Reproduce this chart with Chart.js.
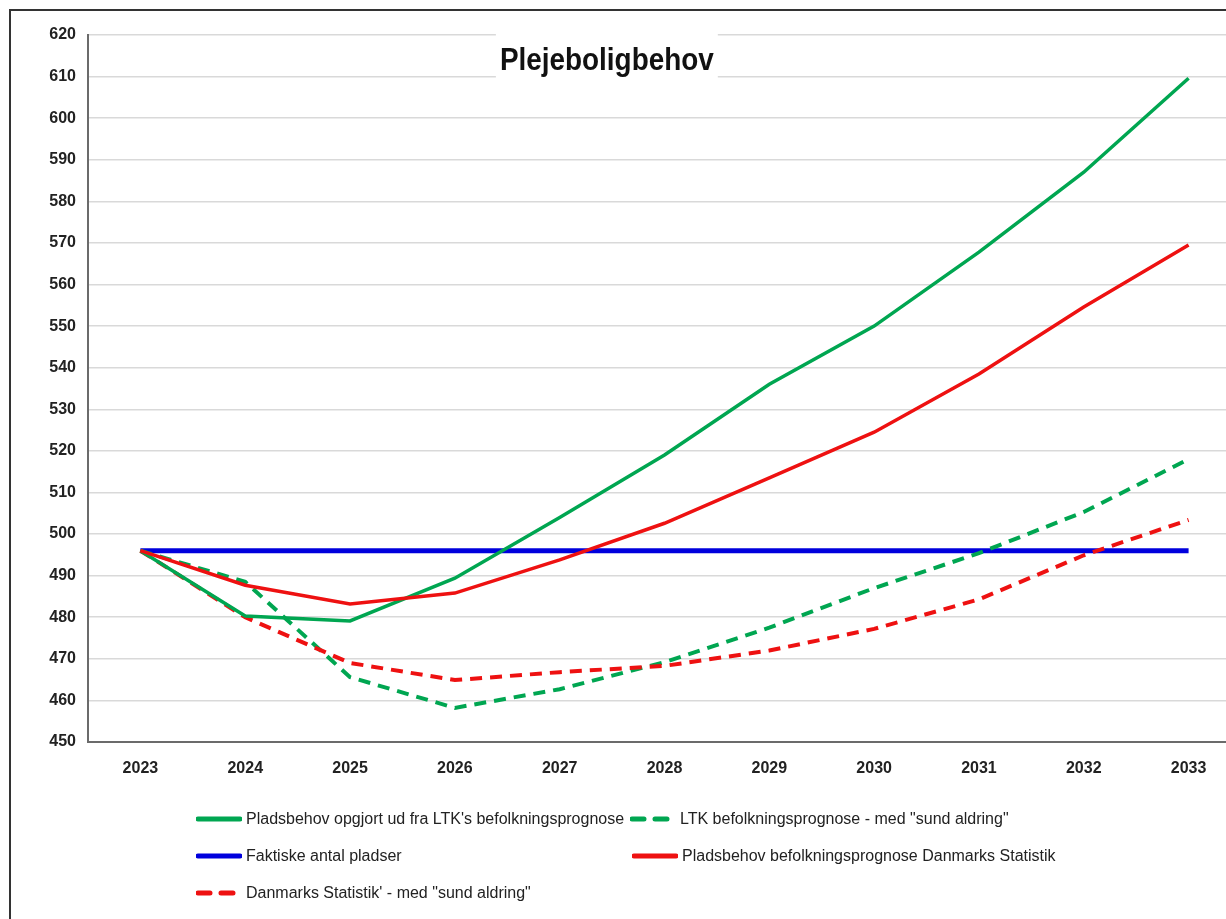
<!DOCTYPE html>
<html>
<head>
<meta charset="utf-8">
<script src="https://cdn.jsdelivr.net/npm/chart.js@4.4.1/dist/chart.umd.min.js"></script>
<style>
  body { margin: 0; overflow: hidden; background: #fff; }
  #frame { position: absolute; left: 9px; top: 9px; width: 1400px; height: 1000px;
           border-left: 2px solid #333; border-top: 2px solid #333; }
  #wrap { position: absolute; left: 0; top: 0; width: 1262px; height: 919px; }
  #legend { position: absolute; left: 196px; top: 810px; width: 900px;
            font-family: "Liberation Sans Narrow", "Arial Narrow", "Liberation Sans", Arial, sans-serif;
            font-size: 16px; color: #222; }
  .item { position: absolute; display: flex; align-items: center; white-space: nowrap; }
  .item svg { margin-right: 4px; }
</style>
</head>
<body>
<div id="frame"></div>
<div id="wrap"><canvas id="myChart"></canvas></div>
<div id="legend"></div>
<script>
const years = ['2023', '2024', '2025', '2026', '2027', '2028', '2029', '2030', '2031', '2032', '2033'];

// Pladsbehov opgjort ud fra LTK's befolkningsprognose
const ltkBehov = [496, 480.3, 479.1, 489.4, 504, 519, 536, 550, 567.8, 587, 609.6];
// LTK befolkningsprognose - med "sund aldring"
const ltkSund = [496, 488.5, 465.6, 458.2, 462.7, 469.2, 477.5, 487, 495.4, 505.3, 518];
// Faktiske antal pladser
const faktiske = [496, 496, 496, 496, 496, 496, 496, 496, 496, 496, 496];
// Pladsbehov befolkningsprognose Danmarks Statistik
const dstBehov = [496, 487.7, 483.2, 485.8, 493.8, 502.6, 513.5, 524.5, 538.5, 554.6, 569.5];
// Danmarks Statistik' - med "sund aldring"
const dstSund = [496, 480, 469, 464.9, 466.8, 468.3, 472, 477.2, 484.3, 494.9, 503.4];

const yTicks = [450, 460, 470, 480, 490, 500, 510, 520, 530, 540, 550, 560, 570, 580, 590, 600, 610, 620];

const narrow = '"Liberation Sans Narrow", "Arial Narrow", "Liberation Sans", Arial, sans-serif';
const green = '#00a651';
const red = '#ee1111';
const blue = '#0000dd';

// draws the title inside the plot with a white box behind it
const titleBox = {
    id: 'titleBox',
    afterDraw(chart) {
        const { ctx, chartArea } = chart;
        const cx = chartArea.left + (chartArea.right - chartArea.left) * 0.45;
        const sx = 0.9; // squeeze, the original uses a narrow face
        ctx.save();
        ctx.font = 'bold 31px ' + narrow;
        const w = ctx.measureText('Plejeboligbehov').width * sx;
        ctx.fillStyle = '#fff';
        ctx.fillRect(cx - w / 2 - 4, chartArea.top - 1, w + 8, 45);
        ctx.translate(cx, chartArea.top + 26);
        ctx.scale(sx, 1);
        ctx.fillStyle = '#111';
        ctx.textAlign = 'center';
        ctx.textBaseline = 'middle';
        ctx.fillText('Plejeboligbehov', 0, 0);
        ctx.restore();
    }
};

const ctx = document.getElementById('myChart').getContext('2d');
const myChart = new Chart(ctx, {
    type: 'line',
    data: {
        labels: years,
        datasets: [
            { label: "Pladsbehov opgjort ud fra LTK's befolkningsprognose", data: ltkBehov,
              borderColor: green, borderWidth: 3.5, pointRadius: 0, order: 2 },
            { label: 'LTK befolkningsprognose - med "sund aldring"', data: ltkSund,
              borderColor: green, borderWidth: 4, borderDash: [12, 8], pointRadius: 0, order: 4 },
            { label: 'Faktiske antal pladser', data: faktiske,
              borderColor: blue, borderWidth: 5, pointRadius: 0, order: 5 },
            { label: 'Pladsbehov befolkningsprognose Danmarks Statistik', data: dstBehov,
              borderColor: red, borderWidth: 3.5, pointRadius: 0, order: 1 },
            { label: 'Danmarks Statistik\' - med "sund aldring"', data: dstSund,
              borderColor: red, borderWidth: 4, borderDash: [12, 8], pointRadius: 0, order: 3 }
        ]
    },
    options: {
        responsive: true,
        maintainAspectRatio: false,
        animation: false,
        layout: { padding: { top: 35, right: 21, bottom: 137, left: 0 } },
        plugins: {
            legend: { display: false },
            title: { display: false },
            tooltip: { enabled: false }
        },
        scales: {
            x: {
                offset: true,
                grid: { display: false, tickLength: 0 },
                border: { display: true, color: '#6b6b6b', width: 2 },
                ticks: { color: '#222', padding: 17, font: { family: narrow, size: 16, weight: 'bold' } },
                afterFit: s => { s.height = 40; }
            },
            y: {
                min: 450,
                max: 620,
                afterBuildTicks: s => { s.ticks = yTicks.map(v => ({ value: v })); },
                grid: { color: '#d9d9d9', lineWidth: 1.5, tickLength: 0 },
                border: { display: true, color: '#6b6b6b', width: 2 },
                ticks: { color: '#222', padding: 12, font: { family: narrow, size: 16, weight: 'bold' } },
                afterFit: s => { s.width = 88; }
            }
        }
    },
    plugins: [titleBox]
});

// HTML legend in two columns, built from the datasets
const legendPos = [[0, 0], [434, 0], [0, 37], [436, 37], [0, 74]];
const legendEl = document.getElementById('legend');
myChart.data.datasets.forEach((ds, i) => {
    const item = document.createElement('div');
    item.className = 'item';
    item.style.left = legendPos[i][0] + 'px';
    item.style.top = legendPos[i][1] + 'px';
    const dash = ds.borderDash ? 'stroke-dasharray="12 11"' : '';
    item.innerHTML = '<svg width="46" height="8"><line x1="2" y1="4" x2="44" y2="4" stroke="' + ds.borderColor +
        '" stroke-width="5" stroke-linecap="round" ' + dash + '/></svg><span>' +
        ds.label.replace(/&/g, '&amp;').replace(/</g, '&lt;') + '</span>';
    legendEl.appendChild(item);
});
</script>
</body>
</html>
